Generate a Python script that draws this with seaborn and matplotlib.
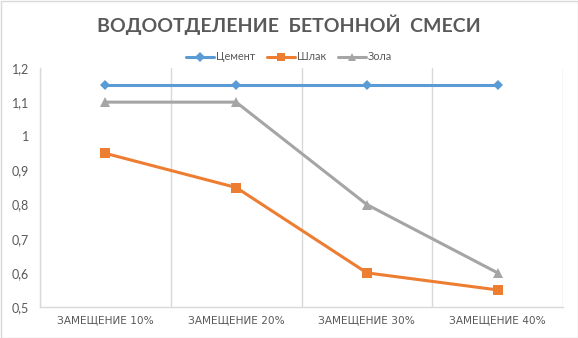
import matplotlib
matplotlib.use("Agg")
import matplotlib.pyplot as plt
import seaborn as sns
import pandas as pd
from matplotlib.ticker import FixedLocator
from matplotlib.lines import Line2D

categories = ["ЗАМЕЩЕНИЕ 10%", "ЗАМЕЩЕНИЕ 20%", "ЗАМЕЩЕНИЕ 30%", "ЗАМЕЩЕНИЕ 40%"]
cement = [1.15, 1.15, 1.15, 1.15]
slag = [0.95, 0.85, 0.60, 0.55]
ash = [1.10, 1.10, 0.80, 0.60]
series_names = ["Цемент", "Шлак", "Зола"]
yticks = [0.5, 0.6, 0.7, 0.8, 0.9, 1.0, 1.1, 1.2]
ytick_labels = ["0,5", "0,6", "0,7", "0,8", "0,9", "1", "1,1", "1,2"]

rows = []
for name, vals in zip(series_names, [cement, slag, ash]):
    for i, (c, v) in enumerate(zip(categories, vals)):
        rows.append({"cat": c, "pos": i, "val": v, "series": name})
df = pd.DataFrame(rows)

sns.set_theme(style="white")
plt.rcParams['font.family'] = ['Lato', 'DejaVu Sans']

fig = plt.figure(figsize=(5.78, 3.38), dpi=100)
ax = fig.add_axes([40/578, 1-307/338, (563-40)/578, (307-68)/338])

palette = {"Цемент": "#5B9BD5", "Шлак": "#ED7D31", "Зола": "#A5A5A5"}
markers = {"Цемент": "D", "Шлак": "s", "Зола": "^"}
sns.lineplot(data=df, x="pos", y="val", hue="series", style="series",
             palette=palette, markers=markers, dashes=False, linewidth=2.2,
             markersize=7, markeredgewidth=0, ax=ax, legend=False)
for line in ax.get_lines():
    if line.get_marker() == "D":
        line.set_markersize(5)

ax.set_xlim(-0.5, 3.5)
ax.set_ylim(0.5, 1.2)
ax.set_xticks(range(4))
ax.set_xticklabels(categories, fontsize=7.6, color="#595959", family=['DejaVu Sans'])
ax.xaxis.set_minor_locator(FixedLocator([-0.5, 0.5, 1.5, 2.5, 3.5]))
ax.grid(which="minor", axis="x", color="#D9D9D9", linewidth=1)
ax.tick_params(axis="both", which="both", length=0)
ax.set_yticks(yticks)
ax.set_yticklabels(ytick_labels, fontsize=9, color="#595959")
ax.tick_params(axis="y", pad=8)
ax.tick_params(axis="x", pad=6)
ax.set_xlabel("")
ax.set_ylabel("")
for s in ["top", "right"]:
    ax.spines[s].set_visible(False)
for s in ["left", "bottom"]:
    ax.spines[s].set_color("#D9D9D9")
    ax.spines[s].set_linewidth(1)

fig.text(0.5, 1-25/338, "ВОДООТДЕЛЕНИЕ  БЕТОННОЙ  СМЕСИ", ha="center", va="center",
         fontsize=14, fontweight="bold", color="#595959", family=['Lato', 'DejaVu Sans'])

handles = [Line2D([], [], color=palette[n], marker=markers[n], linewidth=2.2,
                  markersize=5 if markers[n] == "D" else 6, markeredgewidth=0) for n in series_names]
fig.legend(handles, series_names, loc="center", bbox_to_anchor=(0.5, 1-57/338), ncol=3,
           frameon=False, fontsize=7.8, labelcolor="#595959", handlelength=2.6,
           handletextpad=0.15, columnspacing=1.1)

fig.patches.append(plt.Rectangle((0.5/578, 0.5/338), 1-1/578, 1-1/338, transform=fig.transFigure,
                                 fill=False, edgecolor="#D9D9D9", linewidth=1))
fig.savefig("out.png", dpi=100)
